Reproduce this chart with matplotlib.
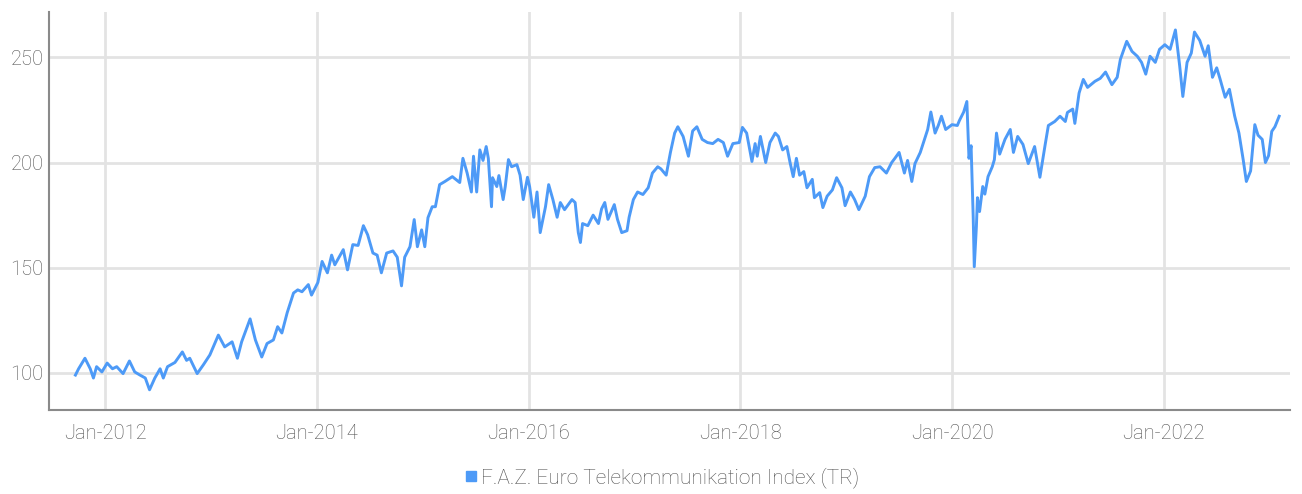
import pandas as pd
import matplotlib
matplotlib.use("Agg")
import matplotlib.pyplot as plt
import matplotlib.dates as mdates
from matplotlib.lines import Line2D

# time as decimal year
years = [
    2011.72, 2011.75, 2011.81, 2011.86, 2011.89, 2011.92, 2011.97, 2012.02, 2012.07, 2012.11,
    2012.17, 2012.23, 2012.28, 2012.33, 2012.38, 2012.42, 2012.47, 2012.52, 2012.55, 2012.59,
    2012.66, 2012.73, 2012.77, 2012.80, 2012.87, 2012.93, 2012.99, 2013.07, 2013.13, 2013.20,
    2013.25, 2013.29, 2013.37, 2013.42, 2013.48, 2013.53, 2013.59, 2013.63, 2013.67, 2013.72,
    2013.78, 2013.82, 2013.86, 2013.92, 2013.95, 2014.01, 2014.05, 2014.10, 2014.14, 2014.17,
    2014.25, 2014.29, 2014.34, 2014.39, 2014.44, 2014.48, 2014.53, 2014.57, 2014.61, 2014.66,
    2014.72, 2014.76, 2014.80, 2014.83, 2014.88, 2014.92, 2014.95, 2014.99, 2015.02, 2015.05,
    2015.09, 2015.12, 2015.16, 2015.21, 2015.28, 2015.32, 2015.35, 2015.38, 2015.42, 2015.46,
    2015.48, 2015.51, 2015.54, 2015.57, 2015.60, 2015.62, 2015.65, 2015.66, 2015.70, 2015.72,
    2015.76, 2015.78, 2015.81, 2015.84, 2015.89, 2015.92, 2015.95, 2015.99, 2016.01, 2016.05,
    2016.08, 2016.11, 2016.16, 2016.19, 2016.23, 2016.27, 2016.30, 2016.34, 2016.41, 2016.44,
    2016.47, 2016.49, 2016.51, 2016.56, 2016.61, 2016.66, 2016.69, 2016.72, 2016.75, 2016.81,
    2016.84, 2016.88, 2016.93, 2016.95, 2016.99, 2017.03, 2017.08, 2017.13, 2017.17, 2017.22,
    2017.25, 2017.30, 2017.34, 2017.38, 2017.41, 2017.46, 2017.51, 2017.55, 2017.59, 2017.64,
    2017.69, 2017.74, 2017.79, 2017.84, 2017.88, 2017.93, 2017.99, 2018.02, 2018.06, 2018.11,
    2018.14, 2018.16, 2018.19, 2018.24, 2018.28, 2018.33, 2018.36, 2018.40, 2018.44, 2018.47,
    2018.50, 2018.53, 2018.56, 2018.60, 2018.63, 2018.68, 2018.70, 2018.75, 2018.78, 2018.82,
    2018.87, 2018.91, 2018.96, 2018.99, 2019.04, 2019.08, 2019.12, 2019.18, 2019.22, 2019.27,
    2019.32, 2019.38, 2019.43, 2019.46, 2019.50, 2019.55, 2019.58, 2019.62, 2019.65, 2019.70,
    2019.74, 2019.77, 2019.80, 2019.84, 2019.87, 2019.90, 2019.94, 2020.00, 2020.05, 2020.07,
    2020.11, 2020.14, 2020.16, 2020.18, 2020.20, 2020.21, 2020.23, 2020.24, 2020.26, 2020.29,
    2020.31, 2020.34, 2020.38, 2020.40, 2020.42, 2020.45, 2020.50, 2020.55, 2020.58, 2020.62,
    2020.67, 2020.72, 2020.78, 2020.83, 2020.88, 2020.91, 2020.97, 2021.02, 2021.07, 2021.09,
    2021.14, 2021.16, 2021.20, 2021.24, 2021.28, 2021.35, 2021.40, 2021.45, 2021.51, 2021.56,
    2021.59, 2021.65, 2021.70, 2021.75, 2021.79, 2021.83, 2021.87, 2021.92, 2021.96, 2022.01,
    2022.06, 2022.11, 2022.15, 2022.18, 2022.22, 2022.26, 2022.29, 2022.34, 2022.39, 2022.42,
    2022.46, 2022.50, 2022.53, 2022.58, 2022.62, 2022.67, 2022.71, 2022.75, 2022.78, 2022.82,
    2022.86, 2022.89, 2022.93, 2022.96, 2022.99, 2023.02, 2023.05, 2023.09,
]
index_tr = [
    99, 102, 107, 102, 97.6, 103, 100.5, 104.7, 102, 103,
    99.7, 105.7, 100.5, 99, 97.6, 92, 97.6, 102, 97.6, 103,
    105, 110, 106, 107, 99.7, 104, 108.6, 118, 112.4, 114.8,
    107, 114.8, 125.7, 115.7, 107.6, 114, 115.7, 122, 119, 128.6,
    138, 139.5, 138.6, 142, 137, 143, 153, 147.6, 156, 151.4,
    158.6, 149, 161, 160.6, 170, 165.7, 157, 156, 147.6, 157,
    158, 155, 141.4, 155, 160, 172.9, 160, 168, 160, 173.8,
    179, 179, 189.5, 191, 193.3, 191.7, 190.5, 202, 195, 186,
    203, 186, 206, 201, 207.6, 202, 179, 192.8, 188.6, 193.8,
    182.4, 188.6, 201.4, 198, 199, 194, 182.4, 193, 188.6, 174,
    186, 166.7, 179, 189.5, 182.4, 174, 181, 177.6, 182.4, 181,
    166.7, 162, 171, 170, 175, 171, 178, 181, 173, 180,
    173, 166.7, 167.6, 174, 182.4, 186, 184.8, 188, 195, 198,
    197, 194, 204.8, 214, 217, 212.4, 203, 215, 217, 211,
    209.5, 209, 211, 209.5, 203, 209, 209.5, 216.7, 214, 200.5,
    209, 203, 212.4, 200, 209.5, 214, 212.4, 206, 207.6, 200,
    193.3, 202, 194, 195.7, 188, 192, 183.3, 185.7, 178.6, 184,
    187, 192.8, 188, 179.5, 186, 182.4, 177.6, 184, 193.3, 197.6,
    198, 195, 200, 202, 204.8, 195, 201, 191, 199.5, 204.8,
    211, 215.7, 224, 214, 217.6, 222, 215.7, 218, 217.6, 220,
    224, 229, 202, 208, 174, 150.5, 169.5, 183.3, 176.7, 188.6,
    185, 193.3, 198, 201.4, 214, 204, 211, 215.7, 204.8, 212.4,
    208.6, 199.5, 207.6, 193, 208.6, 217.6, 219.5, 222, 219.5, 223.8,
    225.4, 218.6, 233, 239.5, 235.7, 238.6, 240, 243, 237, 240.5,
    249, 257.6, 252.8, 250.5, 247.6, 242, 250.5, 247.6, 253.8, 256,
    253.8, 263, 246, 231.4, 247.6, 252, 262, 258, 250.5, 255.5,
    240.5, 245, 240, 231, 234.8, 222, 214, 201.4, 191, 196,
    218, 213, 211, 200, 203.3, 214.8, 217, 222,
]
series_name = "F.A.Z. Euro Telekommunikation Index (TR)"
y_ticks = [100, 150, 200, 250]
x_tick_years = [2012, 2014, 2016, 2018, 2020, 2022]


def to_date(y):
    return pd.Timestamp("2012-01-01") + pd.to_timedelta((y - 2012) * 365.25, unit="D")


dates = [to_date(y) for y in years]

plt.rcParams["font.family"] = ["Roboto", "DejaVu Sans"]

line_color = "#4d9af7"
text_color = "#505050"

fig = plt.figure(figsize=(13.02, 4.94), dpi=100)
ax = fig.add_axes([0.0376, 0.17, 0.953, 0.806])

ax.plot(dates, index_tr, color=line_color, linewidth=2.1, solid_joinstyle="round")

ax.set_ylim(82.4, 271.6)
ax.set_xlim(to_date(2011.47), to_date(2023.19))
ax.set_yticks(y_ticks)
ax.set_xticks([pd.Timestamp(f"{y}-01-01") for y in x_tick_years])
ax.xaxis.set_major_formatter(mdates.DateFormatter("%b-%Y"))

ax.grid(True, color="#e3e3e3", linewidth=2)
ax.set_axisbelow(True)
for side in ["top", "right"]:
    ax.spines[side].set_visible(False)
for side in ["left", "bottom"]:
    ax.spines[side].set_color("#8a8a8a")
    ax.spines[side].set_linewidth(1.5)
ax.tick_params(axis="both", length=0, labelsize=14.5, labelcolor=text_color)
ax.tick_params(axis="x", pad=10)
ax.tick_params(axis="y", pad=4)
for lab in ax.get_xticklabels() + ax.get_yticklabels():
    lab.set_fontweight("light")

handle = Line2D([], [], marker="s", linestyle="none", markersize=6.5,
                markerfacecolor=line_color, markeredgecolor=line_color)
leg = fig.legend([handle], [series_name], loc="lower center", bbox_to_anchor=(0.506, -0.025),
                 frameon=False, fontsize=15, handletextpad=-0.1, handlelength=1.2,
                 labelcolor=text_color)
for t in leg.get_texts():
    t.set_fontweight("light")

fig.savefig("out.png", dpi=100)
